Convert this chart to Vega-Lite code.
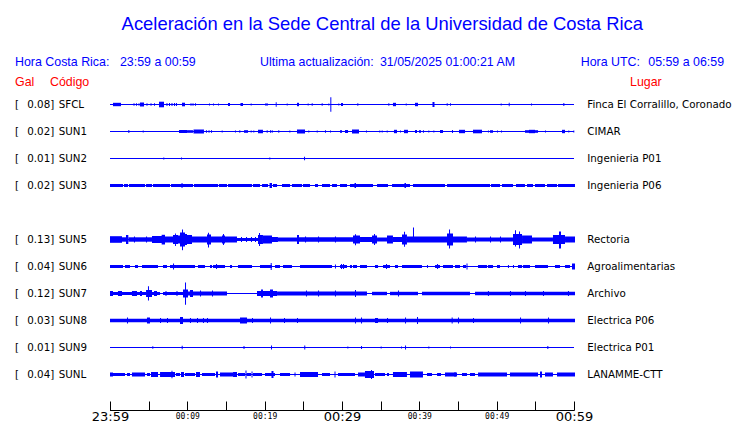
{
"$schema": "https://vega.github.io/schema/vega-lite/v6.json",
"background": "white",
"padding": {"left": 15, "top": 14, "right": 5, "bottom": 5},
"title": {"text": "Aceleración en la Sede Central de la Universidad de Costa Rica", "font": "Liberation Sans", "fontSize": 18.4, "fontWeight": "normal", "color": "#0000ff", "anchor": "middle", "frame": "bounds", "offset": 9, "dx": 9},
"spacing": 0,
"bounds": "full",
"config": {"view": {"stroke": null}},
"datasets": {
"stations": [
{"code": "SFCL", "gal": 0.08, "lugar": "Finca El Corralillo, Coronado"},
{"code": "SUN1", "gal": 0.02, "lugar": "CIMAR"},
{"code": "SUN2", "gal": 0.01, "lugar": "Ingenieria P01"},
{"code": "SUN3", "gal": 0.02, "lugar": "Ingenieria P06"},
{"code": "SUN5", "gal": 0.13, "lugar": "Rectoria"},
{"code": "SUN6", "gal": 0.04, "lugar": "Agroalimentarias"},
{"code": "SUN7", "gal": 0.12, "lugar": "Archivo"},
{"code": "SUN8", "gal": 0.03, "lugar": "Electrica P06"},
{"code": "SUN9", "gal": 0.01, "lugar": "Electrica P01"},
{"code": "SUNL", "gal": 0.04, "lugar": "LANAMME-CTT"}
],
"waves": [
{"s":"SFCL","t":0.39,"t2":1.42,"hi":1.7,"lo":-1.7},
{"s":"SFCL","t":3.04,"t2":3.17,"hi":1.2,"lo":-1.2},
{"s":"SFCL","t":3.36,"t2":3.49,"hi":1.2,"lo":-1.2},
{"s":"SFCL","t":3.69,"t2":3.81,"hi":1.2,"lo":-1.2},
{"s":"SFCL","t":3.88,"t2":4.4,"hi":2,"lo":-2},
{"s":"SFCL","t":4.72,"t2":4.85,"hi":1.2,"lo":-1.2},
{"s":"SFCL","t":5.24,"t2":5.37,"hi":1.2,"lo":-1.2},
{"s":"SFCL","t":5.69,"t2":5.82,"hi":1.2,"lo":-1.2},
{"s":"SFCL","t":6.34,"t2":6.98,"hi":2.8,"lo":-2.8},
{"s":"SFCL","t":7.31,"t2":7.43,"hi":1.5,"lo":-1.5},
{"s":"SFCL","t":7.63,"t2":7.76,"hi":1.5,"lo":-1.5},
{"s":"SFCL","t":7.95,"t2":8.08,"hi":1.5,"lo":-1.5},
{"s":"SFCL","t":8.28,"t2":8.41,"hi":1.5,"lo":-1.5},
{"s":"SFCL","t":8.53,"t2":8.66,"hi":1.5,"lo":-1.5},
{"s":"SFCL","t":9.31,"t2":9.7,"hi":1.8,"lo":-1.8},
{"s":"SFCL","t":10.41,"t2":10.54,"hi":1.2,"lo":-1.2},
{"s":"SFCL","t":10.67,"t2":10.8,"hi":1.2,"lo":-1.2},
{"s":"SFCL","t":10.99,"t2":11.12,"hi":1.2,"lo":-1.2},
{"s":"SFCL","t":12.8,"t2":12.93,"hi":1,"lo":-1},
{"s":"SFCL","t":13.32,"t2":13.45,"hi":1,"lo":-1},
{"s":"SFCL","t":13.97,"t2":14.09,"hi":1,"lo":-1},
{"s":"SFCL","t":15.26,"t2":15.52,"hi":1.5,"lo":-1.5},
{"s":"SFCL","t":16.87,"t2":17.2,"hi":1.5,"lo":-1.5},
{"s":"SFCL","t":18.19,"t2":18.32,"hi":1,"lo":-1},
{"s":"SFCL","t":20.04,"t2":20.43,"hi":1,"lo":-1},
{"s":"SFCL","t":21.43,"t2":21.55,"hi":2.3,"lo":-2.3},
{"s":"SFCL","t":22.85,"t2":22.98,"hi":1,"lo":-1},
{"s":"SFCL","t":24.18,"t2":24.44,"hi":1.7,"lo":-1.7},
{"s":"SFCL","t":25.56,"t2":25.69,"hi":1,"lo":-1},
{"s":"SFCL","t":26.08,"t2":26.21,"hi":1.2,"lo":-1.2},
{"s":"SFCL","t":27.37,"t2":27.5,"hi":1.2,"lo":-1.2},
{"s":"SFCL","t":28.23,"t2":28.36,"hi":1,"lo":-1},
{"s":"SFCL","t":28.49,"t2":28.62,"hi":7.3,"lo":-7.3},
{"s":"SFCL","t":29.52,"t2":29.65,"hi":1,"lo":-1},
{"s":"SFCL","t":29.87,"t2":30.13,"hi":1.5,"lo":-1.5},
{"s":"SFCL","t":31.98,"t2":32.11,"hi":1.2,"lo":-1.2},
{"s":"SFCL","t":35.99,"t2":36.12,"hi":1.2,"lo":-1.2},
{"s":"SFCL","t":36.59,"t2":36.98,"hi":1.7,"lo":-1.7},
{"s":"SFCL","t":38.24,"t2":38.37,"hi":1,"lo":-1},
{"s":"SFCL","t":39.44,"t2":39.83,"hi":1.7,"lo":-1.7},
{"s":"SFCL","t":41.7,"t2":41.96,"hi":2.5,"lo":-2.5},
{"s":"SFCL","t":43.54,"t2":43.67,"hi":1.2,"lo":-1.2},
{"s":"SFCL","t":43.97,"t2":44.09,"hi":1.2,"lo":-1.2},
{"s":"SFCL","t":50.52,"t2":50.65,"hi":1,"lo":-1},
{"s":"SFCL","t":51.56,"t2":51.68,"hi":1.8,"lo":-1.8},
{"s":"SFCL","t":54.44,"t2":54.57,"hi":1,"lo":-1},
{"s":"SFCL","t":58.62,"t2":58.75,"hi":1.5,"lo":-1.5},
{"s":"SUN1","t":2.37,"t2":2.5,"hi":1.5,"lo":-1.5},
{"s":"SUN1","t":4.23,"t2":4.36,"hi":1,"lo":-1},
{"s":"SUN1","t":8.92,"t2":9.96,"hi":1.5,"lo":-1.5},
{"s":"SUN1","t":9.96,"t2":10.73,"hi":1.3,"lo":-1.3},
{"s":"SUN1","t":10.8,"t2":12.15,"hi":2,"lo":-2},
{"s":"SUN1","t":12.41,"t2":12.54,"hi":1.3,"lo":-1.3},
{"s":"SUN1","t":12.74,"t2":12.87,"hi":1.3,"lo":-1.3},
{"s":"SUN1","t":13.06,"t2":13.19,"hi":1.3,"lo":-1.3},
{"s":"SUN1","t":14.44,"t2":14.57,"hi":1,"lo":-1},
{"s":"SUN1","t":16.16,"t2":16.29,"hi":1,"lo":-1},
{"s":"SUN1","t":16.72,"t2":16.85,"hi":1.3,"lo":-1.3},
{"s":"SUN1","t":17.33,"t2":17.85,"hi":1.3,"lo":-1.3},
{"s":"SUN1","t":18.19,"t2":18.32,"hi":1,"lo":-1},
{"s":"SUN1","t":18.53,"t2":18.66,"hi":1,"lo":-1},
{"s":"SUN1","t":19.14,"t2":19.78,"hi":1.7,"lo":-1.7},
{"s":"SUN1","t":20.26,"t2":20.39,"hi":1.3,"lo":-1.3},
{"s":"SUN1","t":20.69,"t2":20.82,"hi":1.3,"lo":-1.3},
{"s":"SUN1","t":20.91,"t2":21.04,"hi":1.3,"lo":-1.3},
{"s":"SUN1","t":21.76,"t2":21.89,"hi":1.3,"lo":-1.3},
{"s":"SUN1","t":23.19,"t2":23.32,"hi":1,"lo":-1},
{"s":"SUN1","t":24.18,"t2":25.22,"hi":2,"lo":-2},
{"s":"SUN1","t":25.64,"t2":25.77,"hi":1,"lo":-1},
{"s":"SUN1","t":26.73,"t2":26.86,"hi":1,"lo":-1},
{"s":"SUN1","t":27.8,"t2":27.93,"hi":1.3,"lo":-1.3},
{"s":"SUN1","t":28.45,"t2":28.58,"hi":1,"lo":-1},
{"s":"SUN1","t":29.74,"t2":30.0,"hi":1.3,"lo":-1.3},
{"s":"SUN1","t":30.39,"t2":30.78,"hi":1.5,"lo":-1.5},
{"s":"SUN1","t":31.29,"t2":32.2,"hi":2,"lo":-2},
{"s":"SUN1","t":33.1,"t2":33.23,"hi":1,"lo":-1},
{"s":"SUN1","t":34.82,"t2":34.95,"hi":1,"lo":-1},
{"s":"SUN1","t":35.13,"t2":35.26,"hi":1,"lo":-1},
{"s":"SUN1","t":35.78,"t2":35.91,"hi":1,"lo":-1},
{"s":"SUN1","t":36.72,"t2":37.11,"hi":1.7,"lo":-1.7},
{"s":"SUN1","t":37.5,"t2":37.63,"hi":1,"lo":-1},
{"s":"SUN1","t":38.02,"t2":38.53,"hi":1.7,"lo":-1.7},
{"s":"SUN1","t":39.44,"t2":39.7,"hi":1.5,"lo":-1.5},
{"s":"SUN1","t":39.96,"t2":40.22,"hi":1.3,"lo":-1.3},
{"s":"SUN1","t":40.47,"t2":40.6,"hi":1.3,"lo":-1.3},
{"s":"SUN1","t":41.16,"t2":41.29,"hi":1,"lo":-1},
{"s":"SUN1","t":41.81,"t2":41.94,"hi":1,"lo":-1},
{"s":"SUN1","t":42.67,"t2":43.06,"hi":1.5,"lo":-1.5},
{"s":"SUN1","t":44.22,"t2":44.35,"hi":1.5,"lo":-1.5},
{"s":"SUN1","t":45.13,"t2":45.91,"hi":1.7,"lo":-1.7},
{"s":"SUN1","t":46.94,"t2":48.1,"hi":1.8,"lo":-1.8},
{"s":"SUN1","t":48.87,"t2":49.0,"hi":1,"lo":-1},
{"s":"SUN1","t":49.14,"t2":49.53,"hi":1.3,"lo":-1.3},
{"s":"SUN1","t":50.04,"t2":50.17,"hi":1,"lo":-1},
{"s":"SUN1","t":50.56,"t2":50.69,"hi":1,"lo":-1},
{"s":"SUN1","t":53.66,"t2":55.35,"hi":1.3,"lo":-1.3},
{"s":"SUN1","t":54.18,"t2":54.96,"hi":1.7,"lo":-1.7},
{"s":"SUN1","t":56.25,"t2":56.38,"hi":1,"lo":-1},
{"s":"SUN1","t":58.45,"t2":58.84,"hi":1.7,"lo":-1.7},
{"s":"SUN1","t":59.26,"t2":59.39,"hi":1,"lo":-1},
{"s":"SUN1","t":59.91,"t2":60.04,"hi":1,"lo":-1},
{"s":"SUN2","t":6.89,"t2":7.02,"hi":1,"lo":-1},
{"s":"SUN2","t":9.18,"t2":9.31,"hi":1,"lo":-1},
{"s":"SUN2","t":20.6,"t2":20.73,"hi":1,"lo":-1},
{"s":"SUN2","t":25.09,"t2":25.22,"hi":1.7,"lo":-1.7},
{"s":"SUN3","t":0,"t2":1.68,"hi":1.5,"lo":-1.5},
{"s":"SUN3","t":1.81,"t2":2.33,"hi":1.5,"lo":-1.5},
{"s":"SUN3","t":2.46,"t2":4.53,"hi":1.5,"lo":-1.5},
{"s":"SUN3","t":4.66,"t2":5.43,"hi":1.5,"lo":-1.5},
{"s":"SUN3","t":5.56,"t2":7.76,"hi":1.5,"lo":-1.5},
{"s":"SUN3","t":7.89,"t2":10.73,"hi":1.5,"lo":-1.5},
{"s":"SUN3","t":10.86,"t2":13.97,"hi":1.5,"lo":-1.5},
{"s":"SUN3","t":14.09,"t2":15.13,"hi":1.5,"lo":-1.5},
{"s":"SUN3","t":15.26,"t2":18.36,"hi":1.5,"lo":-1.5},
{"s":"SUN3","t":18.49,"t2":19.4,"hi":1.5,"lo":-1.5},
{"s":"SUN3","t":19.66,"t2":20.43,"hi":1.5,"lo":-1.5},
{"s":"SUN3","t":21.08,"t2":21.6,"hi":1.5,"lo":-1.5},
{"s":"SUN3","t":22.24,"t2":23.28,"hi":1.5,"lo":-1.5},
{"s":"SUN3","t":23.53,"t2":24.83,"hi":1.5,"lo":-1.5},
{"s":"SUN3","t":24.96,"t2":25.86,"hi":1.5,"lo":-1.5},
{"s":"SUN3","t":26.51,"t2":26.9,"hi":1.5,"lo":-1.5},
{"s":"SUN3","t":27.41,"t2":28.45,"hi":1.5,"lo":-1.5},
{"s":"SUN3","t":28.71,"t2":29.35,"hi":1.5,"lo":-1.5},
{"s":"SUN3","t":29.74,"t2":30.65,"hi":1.5,"lo":-1.5},
{"s":"SUN3","t":31.03,"t2":34.01,"hi":1.5,"lo":-1.5},
{"s":"SUN3","t":34.53,"t2":35.95,"hi":1.5,"lo":-1.5},
{"s":"SUN3","t":36.47,"t2":38.79,"hi":1.5,"lo":-1.5},
{"s":"SUN3","t":39.18,"t2":43.32,"hi":1.5,"lo":-1.5},
{"s":"SUN3","t":43.58,"t2":49.14,"hi":1.5,"lo":-1.5},
{"s":"SUN3","t":49.27,"t2":50.43,"hi":1.5,"lo":-1.5},
{"s":"SUN3","t":50.69,"t2":52.11,"hi":1.5,"lo":-1.5},
{"s":"SUN3","t":52.5,"t2":53.66,"hi":1.5,"lo":-1.5},
{"s":"SUN3","t":53.92,"t2":54.7,"hi":1.5,"lo":-1.5},
{"s":"SUN3","t":54.96,"t2":56.25,"hi":1.5,"lo":-1.5},
{"s":"SUN3","t":56.51,"t2":57.8,"hi":1.5,"lo":-1.5},
{"s":"SUN3","t":57.93,"t2":60.13,"hi":1.5,"lo":-1.5},
{"s":"SUN3","t":9.25,"t2":9.38,"hi":2.5,"lo":-2.5},
{"s":"SUN3","t":20.63,"t2":20.95,"hi":2.5,"lo":-2.5},
{"s":"SUN3","t":31.62,"t2":31.81,"hi":2.5,"lo":-2.5},
{"s":"SUN3","t":38.08,"t2":38.27,"hi":2.5,"lo":-2.5},
{"s":"SUN4"},
{"s":"SUN5","t":0,"t2":1.55,"hi":3.3,"lo":-3.3},
{"s":"SUN5","t":1.55,"t2":2.07,"hi":2.2,"lo":-2.2},
{"s":"SUN5","t":2.07,"t2":2.37,"hi":4.5,"lo":-4.5},
{"s":"SUN5","t":2.37,"t2":5.43,"hi":2.2,"lo":-2.2},
{"s":"SUN5","t":3.1,"t2":3.23,"hi":3,"lo":-3},
{"s":"SUN5","t":4.66,"t2":4.79,"hi":3,"lo":-3},
{"s":"SUN5","t":5.43,"t2":7.11,"hi":3.5,"lo":-3.5},
{"s":"SUN5","t":6.68,"t2":7.11,"hi":4.7,"lo":-5},
{"s":"SUN5","t":7.11,"t2":8.15,"hi":3,"lo":-3},
{"s":"SUN5","t":8.15,"t2":8.79,"hi":4.5,"lo":-4.5},
{"s":"SUN5","t":8.41,"t2":8.53,"hi":6,"lo":-6.5},
{"s":"SUN5","t":8.79,"t2":9.05,"hi":4,"lo":-4},
{"s":"SUN5","t":9.05,"t2":9.7,"hi":7,"lo":-7},
{"s":"SUN5","t":9.31,"t2":9.44,"hi":10,"lo":-10.7},
{"s":"SUN5","t":9.7,"t2":9.96,"hi":5.5,"lo":-5.5},
{"s":"SUN5","t":9.96,"t2":10.6,"hi":4.5,"lo":-4.5},
{"s":"SUN5","t":10.6,"t2":12.54,"hi":3,"lo":-3},
{"s":"SUN5","t":12.54,"t2":13.06,"hi":5,"lo":-5},
{"s":"SUN5","t":12.67,"t2":12.8,"hi":6.7,"lo":-8},
{"s":"SUN5","t":13.06,"t2":14.48,"hi":3,"lo":-3},
{"s":"SUN5","t":14.48,"t2":14.87,"hi":4,"lo":-4},
{"s":"SUN5","t":14.61,"t2":14.74,"hi":5.5,"lo":-5.5},
{"s":"SUN5","t":14.87,"t2":16.42,"hi":3,"lo":-3},
{"s":"SUN5","t":16.42,"t2":19.14,"hi":1.5,"lo":-1.5},
{"s":"SUN5","t":16.94,"t2":17.07,"hi":2.5,"lo":-2.5},
{"s":"SUN5","t":17.59,"t2":17.72,"hi":2.5,"lo":-2.5},
{"s":"SUN5","t":18.23,"t2":18.36,"hi":2.5,"lo":-2.5},
{"s":"SUN5","t":18.75,"t2":18.88,"hi":2.5,"lo":-2.5},
{"s":"SUN5","t":19.14,"t2":19.78,"hi":4.5,"lo":-4.5},
{"s":"SUN5","t":19.27,"t2":19.4,"hi":6.5,"lo":-6.5},
{"s":"SUN5","t":19.78,"t2":20.95,"hi":4,"lo":-4},
{"s":"SUN5","t":20.95,"t2":21.72,"hi":2.5,"lo":-2.5},
{"s":"SUN5","t":21.72,"t2":24.18,"hi":2,"lo":-2},
{"s":"SUN5","t":24.18,"t2":24.44,"hi":4.5,"lo":-4.5},
{"s":"SUN5","t":24.44,"t2":31.42,"hi":2.2,"lo":-2.2},
{"s":"SUN5","t":25.22,"t2":25.35,"hi":3,"lo":-3},
{"s":"SUN5","t":26.9,"t2":27.03,"hi":3,"lo":-3},
{"s":"SUN5","t":29.09,"t2":29.22,"hi":3,"lo":-3},
{"s":"SUN5","t":31.42,"t2":32.33,"hi":4,"lo":-4},
{"s":"SUN5","t":31.68,"t2":31.81,"hi":5.3,"lo":-5.7},
{"s":"SUN5","t":32.33,"t2":33.88,"hi":2.5,"lo":-2.5},
{"s":"SUN5","t":33.88,"t2":34.53,"hi":4,"lo":-4},
{"s":"SUN5","t":34.14,"t2":34.27,"hi":5.5,"lo":-5.5},
{"s":"SUN5","t":34.53,"t2":35.82,"hi":2,"lo":-2},
{"s":"SUN5","t":35.82,"t2":36.59,"hi":4,"lo":-4},
{"s":"SUN5","t":36.59,"t2":37.76,"hi":2.5,"lo":-2.5},
{"s":"SUN5","t":37.76,"t2":38.4,"hi":5,"lo":-5},
{"s":"SUN5","t":38.02,"t2":38.15,"hi":7.7,"lo":-7.3},
{"s":"SUN5","t":38.4,"t2":39.18,"hi":3,"lo":-3},
{"s":"SUN5","t":39.18,"t2":39.31,"hi":12,"lo":-3},
{"s":"SUN5","t":39.31,"t2":43.58,"hi":3,"lo":-3},
{"s":"SUN5","t":43.58,"t2":44.35,"hi":6,"lo":-6},
{"s":"SUN5","t":43.84,"t2":43.97,"hi":10,"lo":-9},
{"s":"SUN5","t":44.35,"t2":46.16,"hi":3,"lo":-3},
{"s":"SUN5","t":46.16,"t2":52.11,"hi":2,"lo":-2},
{"s":"SUN5","t":47.2,"t2":47.33,"hi":3,"lo":-3},
{"s":"SUN5","t":49.14,"t2":49.27,"hi":3,"lo":-3},
{"s":"SUN5","t":50.43,"t2":50.56,"hi":3,"lo":-3},
{"s":"SUN5","t":52.11,"t2":53.28,"hi":5.5,"lo":-5.5},
{"s":"SUN5","t":52.37,"t2":52.5,"hi":9.3,"lo":-7},
{"s":"SUN5","t":52.89,"t2":53.02,"hi":8,"lo":-9},
{"s":"SUN5","t":53.28,"t2":54.57,"hi":4,"lo":-4},
{"s":"SUN5","t":54.57,"t2":57.28,"hi":2,"lo":-2},
{"s":"SUN5","t":57.28,"t2":58.84,"hi":4.5,"lo":-4.5},
{"s":"SUN5","t":58.06,"t2":58.32,"hi":8,"lo":-9},
{"s":"SUN5","t":58.84,"t2":60.13,"hi":3,"lo":-3},
{"s":"SUN6","t":0,"t2":1.68,"hi":1.5,"lo":-1.5},
{"s":"SUN6","t":1.94,"t2":2.59,"hi":1.5,"lo":-1.5},
{"s":"SUN6","t":3.23,"t2":3.62,"hi":1.5,"lo":-1.5},
{"s":"SUN6","t":4.14,"t2":6.21,"hi":1.5,"lo":-1.5},
{"s":"SUN6","t":6.85,"t2":7.37,"hi":1.5,"lo":-1.5},
{"s":"SUN6","t":7.76,"t2":8.66,"hi":1.5,"lo":-1.5},
{"s":"SUN6","t":8.15,"t2":8.28,"hi":3,"lo":-3},
{"s":"SUN6","t":8.66,"t2":10.99,"hi":1.5,"lo":-1.5},
{"s":"SUN6","t":11.38,"t2":12.28,"hi":1.5,"lo":-1.5},
{"s":"SUN6","t":12.93,"t2":13.19,"hi":1.5,"lo":-1.5},
{"s":"SUN6","t":13.32,"t2":14.87,"hi":1.5,"lo":-1.5},
{"s":"SUN6","t":13.71,"t2":13.84,"hi":2.5,"lo":-2.5},
{"s":"SUN6","t":15.52,"t2":15.78,"hi":1.5,"lo":-1.5},
{"s":"SUN6","t":16.55,"t2":18.36,"hi":1.5,"lo":-1.5},
{"s":"SUN6","t":19.4,"t2":20.95,"hi":1.5,"lo":-1.5},
{"s":"SUN6","t":20.78,"t2":20.91,"hi":3.5,"lo":-3.5},
{"s":"SUN6","t":21.34,"t2":21.98,"hi":1.5,"lo":-1.5},
{"s":"SUN6","t":22.37,"t2":23.53,"hi":1.5,"lo":-1.5},
{"s":"SUN6","t":24.57,"t2":28.71,"hi":1.5,"lo":-1.5},
{"s":"SUN6","t":29.09,"t2":29.22,"hi":2,"lo":-2},
{"s":"SUN6","t":29.74,"t2":30.65,"hi":1.5,"lo":-1.5},
{"s":"SUN6","t":29.87,"t2":30.0,"hi":2.5,"lo":-2.5},
{"s":"SUN6","t":30.13,"t2":30.26,"hi":2.5,"lo":-2.5},
{"s":"SUN6","t":31.03,"t2":31.29,"hi":1.5,"lo":-1.5},
{"s":"SUN6","t":31.42,"t2":31.94,"hi":1.5,"lo":-1.5},
{"s":"SUN6","t":32.33,"t2":33.23,"hi":1.5,"lo":-1.5},
{"s":"SUN6","t":34.27,"t2":34.66,"hi":1.5,"lo":-1.5},
{"s":"SUN6","t":35.3,"t2":36.21,"hi":1.5,"lo":-1.5},
{"s":"SUN6","t":35.69,"t2":35.82,"hi":2.5,"lo":-2.5},
{"s":"SUN6","t":36.85,"t2":37.24,"hi":1.5,"lo":-1.5},
{"s":"SUN6","t":37.76,"t2":40.34,"hi":1.5,"lo":-1.5},
{"s":"SUN6","t":40.99,"t2":41.12,"hi":1.5,"lo":-1.5},
{"s":"SUN6","t":42.03,"t2":42.67,"hi":1.5,"lo":-1.5},
{"s":"SUN6","t":42.29,"t2":42.42,"hi":2.5,"lo":-2.5},
{"s":"SUN6","t":43.06,"t2":44.35,"hi":1.5,"lo":-1.5},
{"s":"SUN6","t":44.61,"t2":45.26,"hi":1.5,"lo":-1.5},
{"s":"SUN6","t":45.65,"t2":46.04,"hi":1.5,"lo":-1.5},
{"s":"SUN6","t":46.1,"t2":46.23,"hi":3,"lo":-3},
{"s":"SUN6","t":47.59,"t2":48.75,"hi":1.5,"lo":-1.5},
{"s":"SUN6","t":48.87,"t2":49.53,"hi":1.5,"lo":-1.5},
{"s":"SUN6","t":50.04,"t2":50.43,"hi":1.5,"lo":-1.5},
{"s":"SUN6","t":51.46,"t2":51.59,"hi":1.5,"lo":-1.5},
{"s":"SUN6","t":52.11,"t2":52.24,"hi":1.5,"lo":-1.5},
{"s":"SUN6","t":52.76,"t2":53.28,"hi":1.5,"lo":-1.5},
{"s":"SUN6","t":53.41,"t2":54.31,"hi":1.5,"lo":-1.5},
{"s":"SUN6","t":54.96,"t2":56.64,"hi":1.5,"lo":-1.5},
{"s":"SUN6","t":57.54,"t2":58.19,"hi":1.5,"lo":-1.5},
{"s":"SUN6","t":58.84,"t2":59.48,"hi":1.5,"lo":-1.5},
{"s":"SUN6","t":59.74,"t2":60.13,"hi":3,"lo":-3},
{"s":"SUN7","t":0,"t2":0.39,"hi":2.5,"lo":-2.5},
{"s":"SUN7","t":0.39,"t2":4.66,"hi":1.5,"lo":-1.5},
{"s":"SUN7","t":1.03,"t2":1.55,"hi":2.5,"lo":-2.5},
{"s":"SUN7","t":2.84,"t2":3.49,"hi":2.5,"lo":-2.5},
{"s":"SUN7","t":3.88,"t2":4.14,"hi":2.5,"lo":-2.5},
{"s":"SUN7","t":4.66,"t2":5.43,"hi":3.5,"lo":-3.5},
{"s":"SUN7","t":4.91,"t2":5.04,"hi":7.3,"lo":-7},
{"s":"SUN7","t":5.43,"t2":6.47,"hi":1.5,"lo":-1.5},
{"s":"SUN7","t":5.69,"t2":6.08,"hi":2.5,"lo":-2.5},
{"s":"SUN7","t":6.85,"t2":9.44,"hi":1.5,"lo":-1.5},
{"s":"SUN7","t":7.11,"t2":7.37,"hi":2,"lo":-2},
{"s":"SUN7","t":8.53,"t2":8.79,"hi":2,"lo":-2},
{"s":"SUN7","t":9.44,"t2":10.09,"hi":4,"lo":-4},
{"s":"SUN7","t":9.7,"t2":9.83,"hi":11,"lo":-11.3},
{"s":"SUN7","t":10.09,"t2":15.13,"hi":2,"lo":-2},
{"s":"SUN7","t":10.34,"t2":10.73,"hi":3.5,"lo":-3.5},
{"s":"SUN7","t":11.64,"t2":11.77,"hi":3,"lo":-3},
{"s":"SUN7","t":13.19,"t2":13.32,"hi":3,"lo":-3},
{"s":"SUN7","t":19.01,"t2":21.6,"hi":2.5,"lo":-2.5},
{"s":"SUN7","t":19.53,"t2":19.78,"hi":4,"lo":-4},
{"s":"SUN7","t":20.69,"t2":21.08,"hi":4,"lo":-4},
{"s":"SUN7","t":21.6,"t2":33.23,"hi":2,"lo":-2},
{"s":"SUN7","t":25.34,"t2":25.47,"hi":3,"lo":-3},
{"s":"SUN7","t":26.9,"t2":27.03,"hi":3,"lo":-3},
{"s":"SUN7","t":29.09,"t2":29.22,"hi":3,"lo":-3},
{"s":"SUN7","t":31.68,"t2":31.81,"hi":3.5,"lo":-3.5},
{"s":"SUN7","t":33.88,"t2":35.82,"hi":1.7,"lo":-1.7},
{"s":"SUN7","t":36.21,"t2":39.83,"hi":1.7,"lo":-1.7},
{"s":"SUN7","t":37.24,"t2":37.37,"hi":3,"lo":-3},
{"s":"SUN7","t":40.34,"t2":46.55,"hi":1.7,"lo":-1.7},
{"s":"SUN7","t":47.2,"t2":60.13,"hi":1.7,"lo":-1.7},
{"s":"SUN7","t":48.87,"t2":49.0,"hi":2.5,"lo":-2.5},
{"s":"SUN7","t":51.72,"t2":51.85,"hi":2.5,"lo":-2.5},
{"s":"SUN7","t":53.66,"t2":53.79,"hi":2.5,"lo":-2.5},
{"s":"SUN7","t":55.99,"t2":56.12,"hi":2.5,"lo":-2.5},
{"s":"SUN7","t":59.22,"t2":59.35,"hi":2.5,"lo":-2.5},
{"s":"SUN8","t":0,"t2":60.13,"hi":1.7,"lo":-1.7},
{"s":"SUN8","t":2.2,"t2":2.33,"hi":3,"lo":-3},
{"s":"SUN8","t":4.78,"t2":5.17,"hi":3,"lo":-3},
{"s":"SUN8","t":6.47,"t2":6.6,"hi":2.5,"lo":-2.5},
{"s":"SUN8","t":7.37,"t2":7.5,"hi":2.5,"lo":-2.5},
{"s":"SUN8","t":9.05,"t2":9.44,"hi":3.5,"lo":-3.5},
{"s":"SUN8","t":10.34,"t2":10.47,"hi":2.5,"lo":-2.5},
{"s":"SUN8","t":11.25,"t2":11.38,"hi":2.5,"lo":-2.5},
{"s":"SUN8","t":12.02,"t2":12.15,"hi":2.5,"lo":-2.5},
{"s":"SUN8","t":12.54,"t2":12.67,"hi":2.5,"lo":-2.5},
{"s":"SUN8","t":16.81,"t2":17.72,"hi":3,"lo":-3},
{"s":"SUN8","t":18.36,"t2":18.49,"hi":2.5,"lo":-2.5},
{"s":"SUN8","t":20.69,"t2":20.82,"hi":3,"lo":-3},
{"s":"SUN8","t":22.5,"t2":22.63,"hi":2.5,"lo":-2.5},
{"s":"SUN8","t":24.18,"t2":24.31,"hi":2.5,"lo":-2.5},
{"s":"SUN8","t":31.68,"t2":31.81,"hi":3,"lo":-3},
{"s":"SUN8","t":32.46,"t2":32.59,"hi":3,"lo":-3},
{"s":"SUN8","t":34.27,"t2":34.66,"hi":2.5,"lo":-2.5},
{"s":"SUN8","t":35.82,"t2":35.95,"hi":2.5,"lo":-2.5},
{"s":"SUN8","t":38.15,"t2":38.28,"hi":3,"lo":-3},
{"s":"SUN8","t":39.7,"t2":39.83,"hi":3.5,"lo":-3.5},
{"s":"SUN8","t":44.18,"t2":44.31,"hi":3,"lo":-3},
{"s":"SUN8","t":45.0,"t2":45.13,"hi":3,"lo":-3},
{"s":"SUN8","t":46.94,"t2":47.07,"hi":2.5,"lo":-2.5},
{"s":"SUN8","t":53.02,"t2":53.15,"hi":3,"lo":-3},
{"s":"SUN8","t":56.64,"t2":56.77,"hi":3,"lo":-3},
{"s":"SUN9","t":5.47,"t2":5.6,"hi":1.2,"lo":-1.2},
{"s":"SUN9","t":9.27,"t2":9.4,"hi":1.7,"lo":-1.7},
{"s":"SUN9","t":17.2,"t2":17.46,"hi":1,"lo":-1},
{"s":"SUN9","t":20.82,"t2":20.95,"hi":2,"lo":-2},
{"s":"SUN9","t":25.12,"t2":25.25,"hi":2,"lo":-2},
{"s":"SUN9","t":30.69,"t2":30.82,"hi":1,"lo":-1},
{"s":"SUN9","t":32.46,"t2":32.59,"hi":1.5,"lo":-1.5},
{"s":"SUN9","t":35.0,"t2":35.13,"hi":1,"lo":-1},
{"s":"SUN9","t":37.63,"t2":37.76,"hi":1,"lo":-1},
{"s":"SUN9","t":38.15,"t2":38.28,"hi":2,"lo":-2},
{"s":"SUN9","t":41.16,"t2":41.29,"hi":1,"lo":-1},
{"s":"SUN9","t":43.97,"t2":44.09,"hi":1,"lo":-1},
{"s":"SUN9","t":56.55,"t2":56.68,"hi":1.5,"lo":-1.5},
{"s":"SUNL","t":0,"t2":0.39,"hi":2,"lo":-2},
{"s":"SUNL","t":0.39,"t2":1.94,"hi":1.5,"lo":-1.5},
{"s":"SUNL","t":2.2,"t2":2.59,"hi":1.5,"lo":-1.5},
{"s":"SUNL","t":2.84,"t2":4.53,"hi":2,"lo":-2},
{"s":"SUNL","t":4.78,"t2":5.17,"hi":1.5,"lo":-1.5},
{"s":"SUNL","t":5.3,"t2":6.21,"hi":2.5,"lo":-2.5},
{"s":"SUNL","t":6.47,"t2":8.41,"hi":2.5,"lo":-2.5},
{"s":"SUNL","t":7.95,"t2":8.08,"hi":3.7,"lo":-3.7},
{"s":"SUNL","t":8.53,"t2":9.05,"hi":1.5,"lo":-1.5},
{"s":"SUNL","t":9.18,"t2":9.57,"hi":2.5,"lo":-2.5},
{"s":"SUNL","t":9.7,"t2":10.99,"hi":1.5,"lo":-1.5},
{"s":"SUNL","t":11.12,"t2":11.64,"hi":2.5,"lo":-2.5},
{"s":"SUNL","t":11.9,"t2":13.58,"hi":1.5,"lo":-1.5},
{"s":"SUNL","t":13.71,"t2":13.97,"hi":3,"lo":-3},
{"s":"SUNL","t":14.22,"t2":15.91,"hi":2,"lo":-2},
{"s":"SUNL","t":15.91,"t2":16.42,"hi":2.5,"lo":-2.5},
{"s":"SUNL","t":16.55,"t2":17.46,"hi":1.5,"lo":-1.5},
{"s":"SUNL","t":17.52,"t2":17.65,"hi":4,"lo":-4},
{"s":"SUNL","t":17.65,"t2":18.23,"hi":1.5,"lo":-1.5},
{"s":"SUNL","t":18.3,"t2":18.43,"hi":3,"lo":-3},
{"s":"SUNL","t":18.49,"t2":19.66,"hi":1.5,"lo":-1.5},
{"s":"SUNL","t":20.04,"t2":21.34,"hi":1.5,"lo":-1.5},
{"s":"SUNL","t":20.88,"t2":21.14,"hi":3.5,"lo":-3.5},
{"s":"SUNL","t":21.98,"t2":23.28,"hi":1.5,"lo":-1.5},
{"s":"SUNL","t":23.86,"t2":23.99,"hi":2,"lo":-2},
{"s":"SUNL","t":24.57,"t2":26.9,"hi":2.5,"lo":-2.5},
{"s":"SUNL","t":27.41,"t2":28.45,"hi":1.5,"lo":-1.5},
{"s":"SUNL","t":29.03,"t2":29.16,"hi":3,"lo":-3},
{"s":"SUNL","t":29.48,"t2":31.68,"hi":1.5,"lo":-1.5},
{"s":"SUNL","t":32.07,"t2":32.97,"hi":2,"lo":-2},
{"s":"SUNL","t":32.97,"t2":34.14,"hi":3.5,"lo":-3.5},
{"s":"SUNL","t":33.75,"t2":33.88,"hi":4.5,"lo":-4.5},
{"s":"SUNL","t":34.27,"t2":35.56,"hi":1.5,"lo":-1.5},
{"s":"SUNL","t":35.82,"t2":36.08,"hi":1.5,"lo":-1.5},
{"s":"SUNL","t":36.59,"t2":38.4,"hi":2.5,"lo":-2.5},
{"s":"SUNL","t":38.79,"t2":40.47,"hi":3,"lo":-3},
{"s":"SUNL","t":40.99,"t2":41.64,"hi":1.5,"lo":-1.5},
{"s":"SUNL","t":42.29,"t2":42.8,"hi":1.5,"lo":-1.5},
{"s":"SUNL","t":43.32,"t2":44.87,"hi":2,"lo":-2},
{"s":"SUNL","t":44.55,"t2":44.68,"hi":2.5,"lo":-2.5},
{"s":"SUNL","t":45.52,"t2":46.16,"hi":1.5,"lo":-1.5},
{"s":"SUNL","t":46.55,"t2":47.2,"hi":1.5,"lo":-1.5},
{"s":"SUNL","t":47.59,"t2":51.34,"hi":2,"lo":-2},
{"s":"SUNL","t":51.72,"t2":55.35,"hi":2,"lo":-2},
{"s":"SUNL","t":55.6,"t2":55.86,"hi":3,"lo":-3},
{"s":"SUNL","t":56.25,"t2":57.28,"hi":2,"lo":-2},
{"s":"SUNL","t":57.8,"t2":60.13,"hi":2,"lo":-2}
]
},
"vconcat": [
{
"width": 464,
"height": 49,
"data": {"values": [{}]},
"layer": [
{"mark": {"type": "text", "text": "Hora Costa Rica:", "align": "left", "baseline": "middle", "color": "#0000ff", "font": "Liberation Sans", "fontSize": 12.4},
 "encoding": {"x": {"datum": -12.28, "type": "quantitative", "scale": {"domain": [0, 60], "nice": false, "zero": false}, "axis": null},
              "y": {"datum": 1, "type": "quantitative", "scale": {"domain": [0, 2.45], "reverse": true, "nice": false, "zero": false}, "axis": null}}},
{"mark": {"type": "text", "text": "23:59 a 00:59", "align": "left", "baseline": "middle", "color": "#0000ff", "font": "Liberation Sans", "fontSize": 12.4},
 "encoding": {"x": {"datum": 1.29, "type": "quantitative", "axis": null}, "y": {"datum": 1, "type": "quantitative", "axis": null}}},
{"mark": {"type": "text", "text": "Ultima actualización:", "align": "left", "baseline": "middle", "color": "#0000ff", "font": "Liberation Sans", "fontSize": 12.4},
 "encoding": {"x": {"datum": 19.4, "type": "quantitative", "axis": null}, "y": {"datum": 1, "type": "quantitative", "axis": null}}},
{"mark": {"type": "text", "text": "31/05/2025 01:00:21 AM", "align": "left", "baseline": "middle", "color": "#0000ff", "font": "Liberation Sans", "fontSize": 12.4},
 "encoding": {"x": {"datum": 34.91, "type": "quantitative", "axis": null}, "y": {"datum": 1, "type": "quantitative", "axis": null}}},
{"mark": {"type": "text", "text": "Hora UTC:", "align": "left", "baseline": "middle", "color": "#0000ff", "font": "Liberation Sans", "fontSize": 12.4},
 "encoding": {"x": {"datum": 60.87, "type": "quantitative", "axis": null}, "y": {"datum": 1, "type": "quantitative", "axis": null}}},
{"mark": {"type": "text", "text": "05:59 a 06:59", "align": "left", "baseline": "middle", "color": "#0000ff", "font": "Liberation Sans", "fontSize": 12.4},
 "encoding": {"x": {"datum": 69.6, "type": "quantitative", "axis": null}, "y": {"datum": 1, "type": "quantitative", "axis": null}}},
{"mark": {"type": "text", "text": "Gal", "align": "left", "baseline": "middle", "color": "#ff0000", "font": "Liberation Sans", "fontSize": 12.4},
 "encoding": {"x": {"datum": -12.28, "type": "quantitative", "axis": null}, "y": {"datum": 2, "type": "quantitative", "axis": null}}},
{"mark": {"type": "text", "text": "Código", "align": "left", "baseline": "middle", "color": "#ff0000", "font": "Liberation Sans", "fontSize": 12.4},
 "encoding": {"x": {"datum": -7.76, "type": "quantitative", "axis": null}, "y": {"datum": 2, "type": "quantitative", "axis": null}}},
{"mark": {"type": "text", "text": "Lugar", "align": "left", "baseline": "middle", "color": "#ff0000", "font": "Liberation Sans", "fontSize": 12.4},
 "encoding": {"x": {"datum": 67.24, "type": "quantitative", "axis": null}, "y": {"datum": 2, "type": "quantitative", "axis": null}}}
]
},
{
"data": {"name": "waves"},
"transform": [{"lookup": "s", "from": {"data": {"name": "stations"}, "key": "code", "fields": ["gal", "lugar"]}}],
"facet": {"row": {"field": "s", "type": "nominal", "header": {"labels": false, "title": null}, "title": null}},
"spacing": {"row": 0},
"spec": {
"width": 464,
"height": 27,
"layer": [
{"mark": {"type": "rect", "color": "#0000ff"},
 "encoding": {
  "x": {"field": "t", "type": "quantitative", "title": null, "scale": {"domain": [0, 60], "nice": false, "zero": false}, "axis": null},
  "x2": {"field": "t2"},
  "y": {"field": "hi", "type": "quantitative", "scale": {"domain": [-13.5, 13.5], "nice": false, "zero": false}, "axis": null},
  "y2": {"field": "lo"}
 }},
{"transform": [{"filter": "isValid(datum.gal)"}, {"aggregate": [{"op": "count", "as": "n"}], "groupby": ["s", "gal", "lugar"]}],
 "layer": [
  {"mark": {"type": "rule", "color": "#0000ff", "strokeWidth": 1},
   "encoding": {"x": {"datum": 0, "type": "quantitative", "axis": null}, "x2": {"datum": 60}, "y": {"datum": 0, "type": "quantitative", "axis": null}}},
  {"mark": {"type": "text", "text": "[", "align": "left", "baseline": "middle", "dx": -95, "font": "DejaVu Sans", "fontSize": 10.3, "color": "black"},
   "encoding": {"x": {"datum": 0, "type": "quantitative", "axis": null}, "y": {"datum": 0, "type": "quantitative", "axis": null}}},
  {"mark": {"type": "text", "align": "left", "baseline": "middle", "dx": -82.7, "font": "DejaVu Sans", "fontSize": 10.3, "color": "black"},
   "encoding": {"x": {"datum": 0, "type": "quantitative", "axis": null}, "y": {"datum": 0, "type": "quantitative", "axis": null}, "text": {"field": "gal", "type": "quantitative", "format": ".2f"}}},
  {"mark": {"type": "text", "text": "]", "align": "left", "baseline": "middle", "dx": -59.8, "font": "DejaVu Sans", "fontSize": 10.3, "color": "black"},
   "encoding": {"x": {"datum": 0, "type": "quantitative", "axis": null}, "y": {"datum": 0, "type": "quantitative", "axis": null}}},
  {"mark": {"type": "text", "align": "left", "baseline": "middle", "dx": -51.3, "font": "DejaVu Sans", "fontSize": 10.3, "color": "black"},
   "encoding": {"x": {"datum": 0, "type": "quantitative", "axis": null}, "y": {"datum": 0, "type": "quantitative", "axis": null}, "text": {"field": "s", "type": "nominal"}}},
  {"mark": {"type": "text", "align": "left", "baseline": "middle", "dx": 13.3, "font": "DejaVu Sans", "fontSize": 10.3, "color": "black"},
   "encoding": {"x": {"datum": 60, "type": "quantitative", "axis": null}, "y": {"datum": 0, "type": "quantitative", "axis": null}, "text": {"field": "lugar", "type": "nominal"}}}
 ]}
]
}
},
{
"width": 464,
"height": 22,
"data": {"values": [{}]},
"mark": {"type": "rule", "color": "black", "strokeWidth": 1, "yOffset": 0.5},
"encoding": {
  "x": {"datum": 0, "type": "quantitative", "scale": {"domain": [0, 60], "nice": false, "zero": false},
        "axis": {"values": [0, 5, 10, 15, 20, 25, 30, 35, 40, 45, 50, 55, 60], "title": null, "grid": false,
                 "domain": true, "ticks": true,
                 "tickSize": -9, "tickColor": "black", "tickWidth": 1, "domainColor": "black", "domainWidth": 1,
                 "labelExpr": "datum.value % 10 == 0 ? timeFormat(datetime(2025, 4, 30, 23, 59 + datum.value), '%H:%M') : ''",
                 "labelFontSize": {"condition": {"test": "datum.value % 30 == 0", "value": 13}, "value": 8},
                 "labelFont": {"condition": {"test": "datum.value % 30 == 0", "value": "DejaVu Sans"}, "value": "DejaVu Sans Mono"},
                 "labelColor": "black", "labelPadding": 15.5, "labelBaseline": "middle", "labelFlush": false, "labelOverlap": false, "labelBound": false}},
  "x2": {"datum": 60},
  "y": {"datum": 0, "type": "quantitative", "scale": {"domain": [0, 1], "nice": false, "zero": false}, "axis": null}
}
}
]
}
